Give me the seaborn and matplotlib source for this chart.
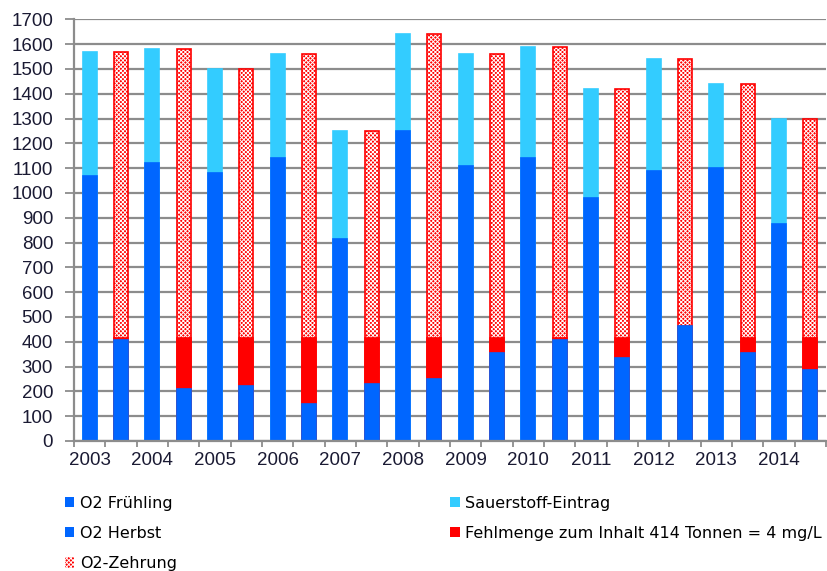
import numpy as np
import pandas as pd
import matplotlib
matplotlib.use("Agg")
import matplotlib.pyplot as plt
from matplotlib.patches import Patch
import seaborn as sns

# --- data ---
years = [2003, 2004, 2005, 2006, 2007, 2008, 2009, 2010, 2011, 2012, 2013, 2014]
o2_fruehling = [1070, 1120, 1080, 1140, 815, 1250, 1110, 1140, 980, 1090, 1100, 875]
sauerstoff_eintrag = [500, 460, 420, 420, 435, 390, 450, 450, 440, 450, 340, 425]
o2_herbst = [408, 210, 220, 150, 230, 250, 355, 408, 335, 465, 355, 285]
fehlmenge = [6, 204, 194, 264, 184, 164, 59, 6, 79, 0, 59, 129]
o2_zehrung = [1156, 1166, 1086, 1146, 836, 1226, 1146, 1176, 1006, 1075, 1026, 886]

BLUE = '#0066FF'
LIGHT_BLUE = '#33CCFF'
RED = '#FF0000'
GRID = '#8c8c8c'
HATCH = 'xxxxxxxx'

plt.rcParams['font.family'] = ['Liberation Sans', 'DejaVu Sans']
plt.rcParams['hatch.color'] = 'white'
plt.rcParams['hatch.linewidth'] = 0.7

# one slot per bar: left bar (spring) and right bar (autumn) for each year
left_slots = [f"{y}a" for y in years]
right_slots = [f"{y}b" for y in years]
order = [s for pair in zip(left_slots, right_slots) for s in pair]

left = pd.DataFrame({
    'slot': left_slots,
    'fruehling': o2_fruehling,
    'total': np.add(o2_fruehling, sauerstoff_eintrag),
})
right = pd.DataFrame({
    'slot': right_slots,
    'herbst': o2_herbst,
    'mid': np.add(o2_herbst, fehlmenge),
    'total': np.add(np.add(o2_herbst, fehlmenge), o2_zehrung),
})

fig = plt.figure(figsize=(8.27, 5.71), dpi=100)
ax = fig.add_axes([0.0895, 0.2277, 0.9093, 0.7385])
ax.set_axisbelow(True)

bw = 0.44
lw = 1.2
common = dict(order=order, width=bw, errorbar=None, saturation=1, ax=ax)

# left bars: Sauerstoff-Eintrag stacked on O2 Frühling
sns.barplot(data=left, x='slot', y='total', color=LIGHT_BLUE, edgecolor=LIGHT_BLUE, linewidth=lw, **common)
sns.barplot(data=left, x='slot', y='fruehling', color=BLUE, edgecolor=BLUE, linewidth=lw, **common)

# right bars: O2-Zehrung (hatched) over Fehlmenge over O2 Herbst
sns.barplot(data=right, x='slot', y='total', color=RED, hatch=HATCH, linewidth=0, **common)
sns.barplot(data=right, x='slot', y='total', color=RED, fill=False, linewidth=lw, **common)
sns.barplot(data=right, x='slot', y='mid', color=RED, edgecolor=RED, linewidth=lw, **common)
sns.barplot(data=right, x='slot', y='herbst', color=BLUE, edgecolor=BLUE, linewidth=lw, **common)

# axes styling
ax.set_ylim(0, 1700)
ax.set_yticks(np.arange(0, 1701, 100))
ax.yaxis.grid(True, color=GRID, linewidth=1.6)
ax.set_xlim(-0.5, len(order) - 0.5)
ax.set_xticks(np.arange(-0.5, len(order), 1))
ax.set_xticklabels([])
ax.set_xticks(np.arange(0, len(order), 2), minor=True)
ax.set_xticklabels([str(y) for y in years], minor=True)
ax.tick_params(axis='x', which='major', length=4, width=1.3, color=GRID, direction='out')
ax.tick_params(axis='x', which='minor', length=0, pad=8)
ax.tick_params(axis='y', length=6.5, width=1.3, color=GRID, pad=8.5)
ax.tick_params(axis='both', which='both', labelsize=13.5, labelcolor='#1a1a33')
ax.set_xlabel('')
ax.set_ylabel('')

for side in ['top', 'right']:
    ax.spines[side].set_visible(False)
for side in ['left', 'bottom']:
    ax.spines[side].set_color(GRID)
    ax.spines[side].set_linewidth(1.6)

# legend in two columns below the plot
leg_kw = dict(frameon=False, borderpad=0, borderaxespad=0, handlelength=0.62,
              handleheight=0.62, handletextpad=0.35, labelspacing=0.95,
              prop={'family': 'DejaVu Sans', 'size': 11.5}, loc='upper left')
h1 = [Patch(facecolor=BLUE), Patch(facecolor=BLUE),
      Patch(facecolor=RED, hatch=HATCH)]
fig.legend(h1, ['O2 Frühling', 'O2 Herbst', 'O2-Zehrung'],
           bbox_to_anchor=(0.078, 0.132), **leg_kw)
h2 = [Patch(facecolor=LIGHT_BLUE), Patch(facecolor=RED)]
fig.legend(h2, ['Sauerstoff-Eintrag', 'Fehlmenge zum Inhalt 414 Tonnen = 4 mg/L'],
           bbox_to_anchor=(0.544, 0.132), **leg_kw)

fig.savefig('out.png', dpi=100)
